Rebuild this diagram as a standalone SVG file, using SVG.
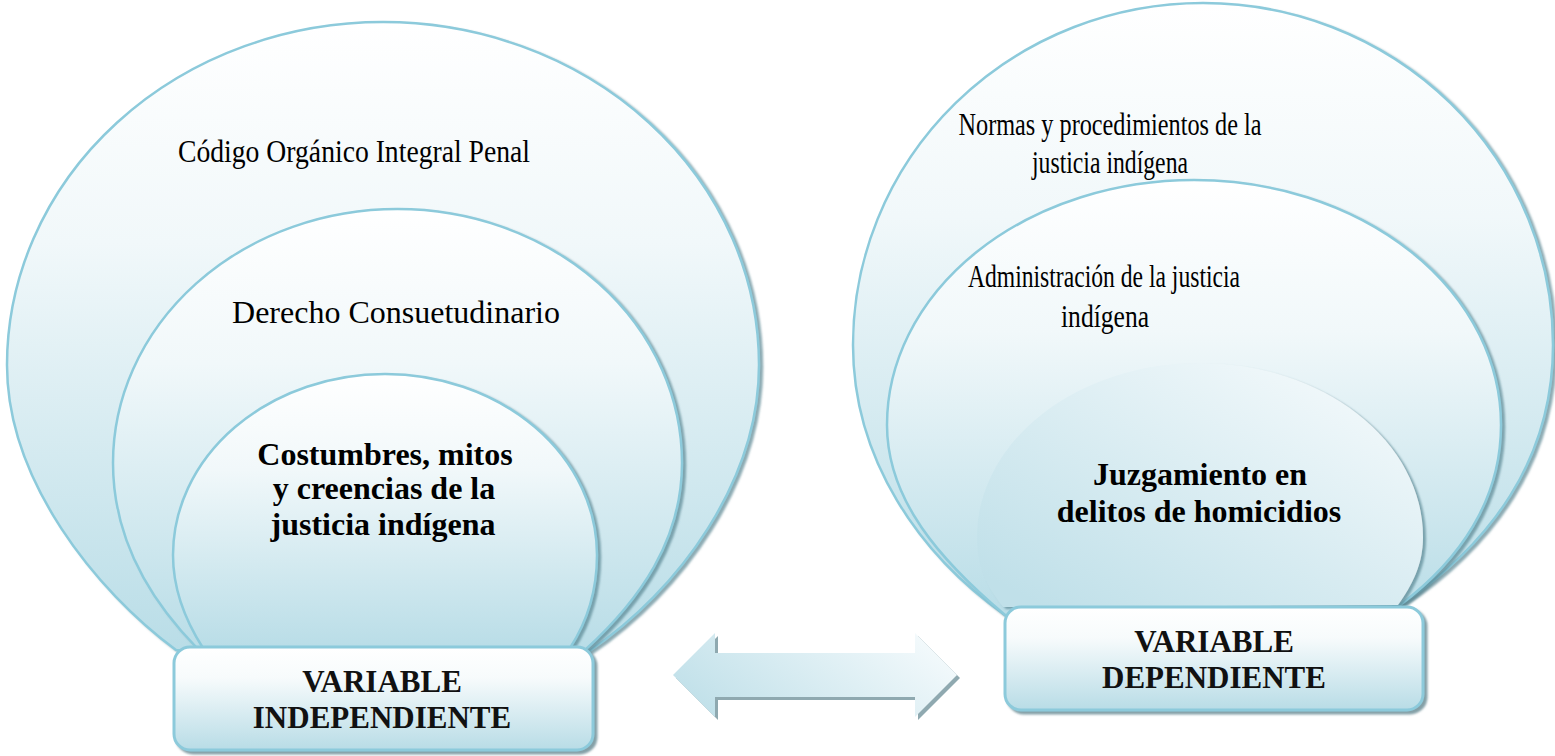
<svg xmlns="http://www.w3.org/2000/svg" width="1555" height="756" viewBox="0 0 1555 756">
<defs>
<linearGradient id="gShape" x1="0" y1="0" x2="0" y2="1">
<stop offset="0" stop-color="#ffffff"/>
<stop offset="0.35" stop-color="#f1f8fa"/>
<stop offset="1" stop-color="#b9dde7"/>
</linearGradient>
<linearGradient id="gInner" x1="0.9" y1="0.1" x2="0.1" y2="0.95">
<stop offset="0" stop-color="#f3f9fb"/>
<stop offset="1" stop-color="#c0e0e9"/>
</linearGradient>
<linearGradient id="gBox" x1="0" y1="0" x2="0" y2="1">
<stop offset="0" stop-color="#ffffff"/>
<stop offset="0.3" stop-color="#f7fbfc"/>
<stop offset="1" stop-color="#b8dce6"/>
</linearGradient>
<linearGradient id="gArrow" x1="0" y1="0.7" x2="1" y2="0.3">
<stop offset="0" stop-color="#c0e0e9"/>
<stop offset="1" stop-color="#f4fafc"/>
</linearGradient>
<filter id="sh" x="-5%" y="-5%" width="115%" height="115%">
<feDropShadow dx="3" dy="2" stdDeviation="1" flood-color="#4f7f8b" flood-opacity="0.65"/>
</filter>
<filter id="shBox" x="-5%" y="-5%" width="115%" height="120%">
<feDropShadow dx="3" dy="3" stdDeviation="0.8" flood-color="#6e8f98" flood-opacity="0.85"/>
</filter>
<style>
.shape{fill:url(#gShape);stroke:#8ccadb;stroke-width:2.5;filter:url(#sh)}
.inner{fill:url(#gInner);stroke:none;filter:url(#sh)}
.box{fill:url(#gBox);stroke:#8ccadb;stroke-width:3;filter:url(#shBox)}
.t{font-family:"Liberation Serif","Times New Roman",serif;font-size:32px;fill:#000;text-anchor:middle}
.tr{font-family:"Liberation Serif","Times New Roman",serif;font-size:32px;fill:#000;text-anchor:middle}
.b{font-weight:bold}
.bx{font-family:"Liberation Serif","Times New Roman",serif;font-size:31px;font-weight:bold;fill:#111;text-anchor:middle}
</style>
</defs>
<rect width="1555" height="756" fill="#ffffff"/>

<g id="left-outer">
<path class="shape" d="M 176 650 C 95 590, 7 480, 7 365 A 376 343 0 0 1 759 365 C 759 480, 680 590, 588 652 Z"/>
<text class="t" x="354" y="162" textLength="352" lengthAdjust="spacingAndGlyphs">Código Orgánico Integral Penal</text>
</g>
<g id="left-middle">
<path class="shape" d="M 197 648 C 150 600, 113 540, 113 463 A 284.5 254 0 0 1 682 463 C 682 540, 640 600, 585 650 Z"/>
<text class="t" x="396" y="323">Derecho Consuetudinario</text>
</g>
<g id="left-inner">
<path class="shape" d="M 203 648 C 185 620, 173 590, 173 555 A 212 181 0 0 1 597 555 C 597 595, 585 625, 570 648 Z"/>
<text class="t b" x="385" y="465">Costumbres, mitos</text>
<text class="t b" x="384" y="499">y creencias de la</text>
<text class="t b" x="383" y="535">justicia indígena</text>
</g>

<g id="right-outer">
<path class="shape" d="M 1005 615 C 920 555, 853 460, 853 345 A 350 342 0 0 1 1553 345 C 1553 460, 1490 545, 1400 605 Z"/>
<text class="tr" x="1110" y="135" textLength="303" lengthAdjust="spacingAndGlyphs">Normas y procedimientos  de la</text>
<text class="tr" x="1110" y="173" textLength="156" lengthAdjust="spacingAndGlyphs">justicia indígena</text>
</g>
<g id="right-middle">
<path class="shape" d="M 1005 615 C 940 560, 887 500, 887 425 A 307 245 0 0 1 1501 425 C 1501 500, 1460 560, 1400 605 Z"/>
<text class="tr" x="1104" y="287" textLength="272" lengthAdjust="spacingAndGlyphs">Administración de la justicia</text>
<text class="tr" x="1105" y="327" textLength="88" lengthAdjust="spacingAndGlyphs">indígena</text>
</g>
<g id="right-inner">
<path class="inner" d="M 1003 607 C 985 585, 977 565, 977 537 A 223 174 0 0 1 1423 537 C 1423 565, 1412 585, 1398 605 Z"/>
<text class="t b" x="1200" y="485">Juzgamiento en</text>
<text class="t b" x="1199" y="522">delitos de homicidios</text>
</g>

<g id="box-independiente">
<rect class="box" x="174" y="647" width="419" height="103" rx="16"/>
<text class="bx" x="382" y="692">VARIABLE</text>
<text class="bx" x="382" y="728">INDEPENDIENTE</text>
</g>
<g id="box-dependiente">
<rect class="box" x="1005" y="607" width="418" height="103" rx="16"/>
<text class="bx" x="1214" y="652">VARIABLE</text>
<text class="bx" x="1214" y="688">DEPENDIENTE</text>
</g>

<g id="connectors">
<polygon points="676,678 718,636 718,656 918,656 918,636 960,678 918,720 918,700 718,700 718,720" fill="#8fa9b0"/>
<polygon points="673,675 715,633 715,653 915,653 915,633 957,675 915,717 915,697 715,697 715,717" fill="url(#gArrow)"/>
</g>
</svg>
